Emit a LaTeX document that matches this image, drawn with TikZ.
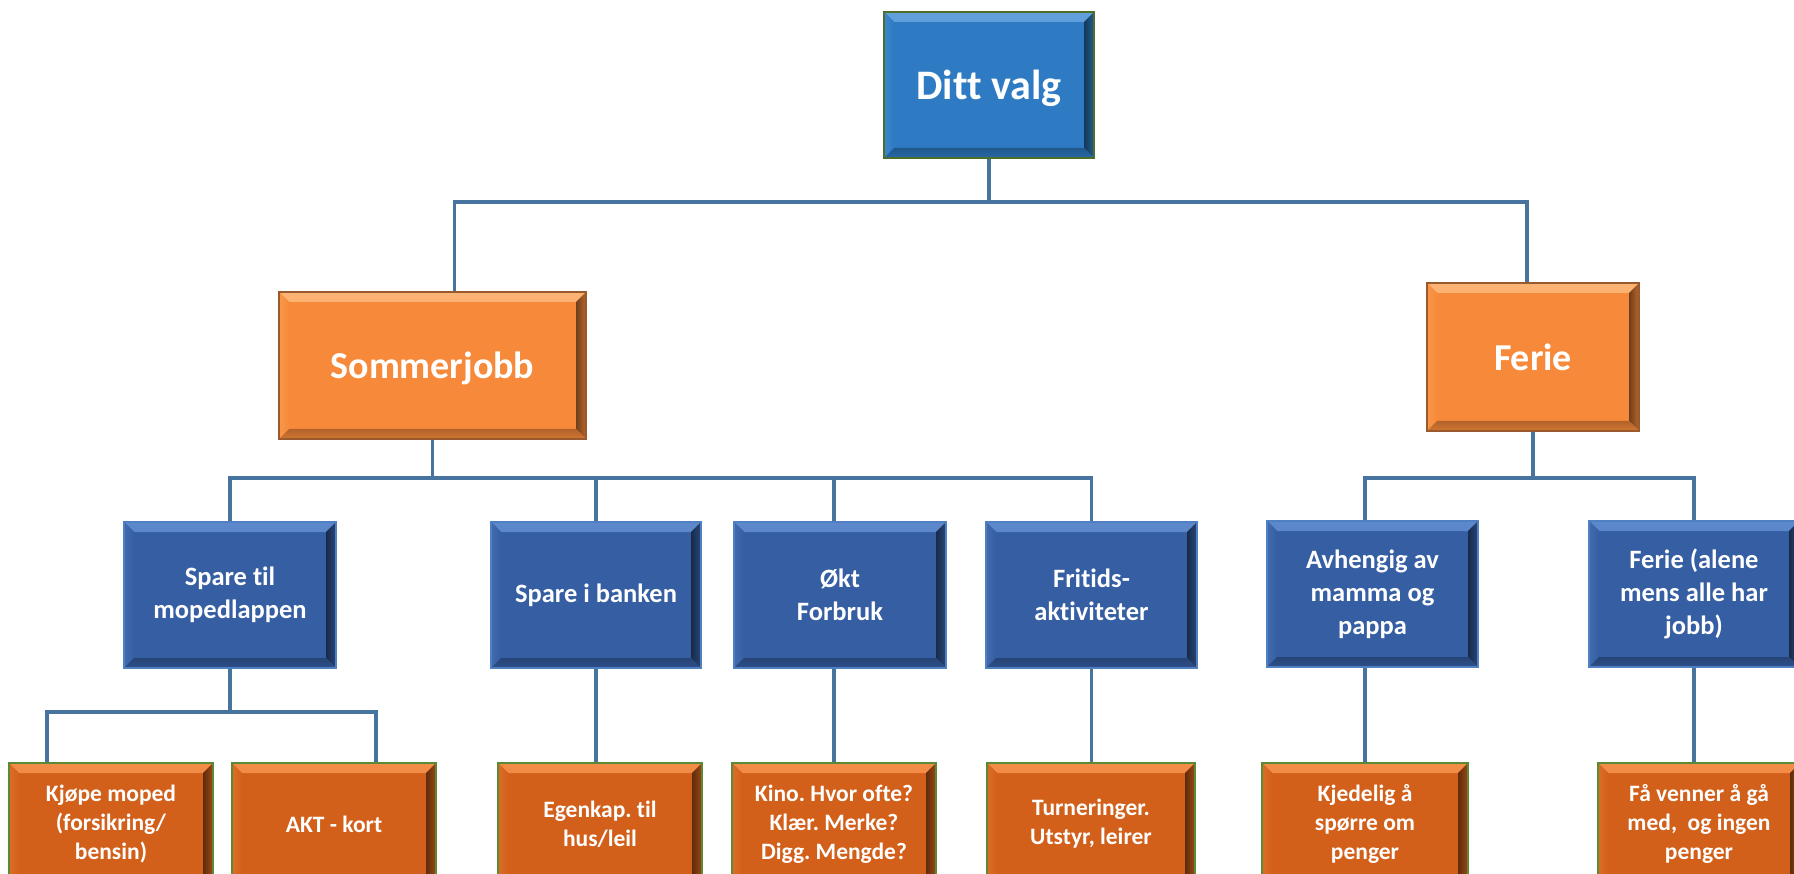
\documentclass[tikz,border=0pt]{standalone}
\usepackage{fontspec}
\setmainfont{Carlito}[Ligatures=NoCommon]
\frenchspacing
\definecolor{dittFace}{HTML}{2E7BC4}
\definecolor{dittLight}{HTML}{62A0DC}
\definecolor{dittBorder}{HTML}{4E6F2A}
\definecolor{blueFace}{HTML}{355EA3}
\definecolor{blueLight}{HTML}{5E88CC}
\definecolor{blueBorder}{HTML}{4F80C2}
\definecolor{oranFace}{HTML}{F78A3A}
\definecolor{oranLight}{HTML}{FCB474}
\definecolor{oranBorder}{HTML}{9A5A2D}
\definecolor{dkorFace}{HTML}{D2601A}
\definecolor{dkorLight}{HTML}{F28D48}
\definecolor{dkorBorder}{HTML}{5A8A35}
\definecolor{connCol}{HTML}{47749F}
\tikzset{
  bevbox/.style n args={3}{rectangle, draw=#3, line width=1.6pt, fill=#1,
    inner sep=0pt, align=center, text=white,
    path picture={
      \shade[top color=#2, bottom color=#1!60!#2]
        (path picture bounding box.north west) -- (path picture bounding box.north east)
        -- ([xshift=-10pt,yshift=-10pt]path picture bounding box.north east)
        -- ([xshift=10pt,yshift=-10pt]path picture bounding box.north west) -- cycle;
      \shade[left color=#1!70!#2, right color=#1]
        (path picture bounding box.north west) -- ([xshift=10pt,yshift=-10pt]path picture bounding box.north west)
        -- ([xshift=10pt,yshift=10pt]path picture bounding box.south west)
        -- (path picture bounding box.south west) -- cycle;
      \shade[left color=#1!45!black, right color=#1!75!black]
        (path picture bounding box.north east) -- (path picture bounding box.south east)
        -- ([xshift=-10pt,yshift=10pt]path picture bounding box.south east)
        -- ([xshift=-10pt,yshift=-10pt]path picture bounding box.north east) -- cycle;
      \shade[top color=#1!72!black, bottom color=#1!85!black]
        (path picture bounding box.south west) -- (path picture bounding box.south east)
        -- ([xshift=-10pt,yshift=10pt]path picture bounding box.south east)
        -- ([xshift=10pt,yshift=10pt]path picture bounding box.south west) -- cycle;
    }},
  lvone/.style={bevbox={dittFace}{dittLight}{dittBorder}, text depth=0pt,
    font=\fontsize{42pt}{50pt}\selectfont\bfseries},
  lvtwo/.style={bevbox={oranFace}{oranLight}{oranBorder}, text depth=0pt,
    font=\fontsize{38pt}{45pt}\selectfont\bfseries},
  lvthree/.style={bevbox={blueFace}{blueLight}{blueBorder},
    minimum height=146pt, font=\fontsize{26.5pt}{33pt}\selectfont\bfseries},
  lvfour/.style={bevbox={dkorFace}{dkorLight}{dkorBorder},
    minimum height=122pt, font=\fontsize{23.5pt}{29pt}\selectfont\bfseries},
  conn/.style={draw=connCol, line width=3.5pt},
}
\begin{document}
\begin{tikzpicture}[x=1pt,y=-1pt]
\useasboundingbox (0,0) rectangle (1794,874);
\clip (0,0) rectangle (1794,874);
% level 1
\node[lvone, minimum width=210pt, minimum height=146pt] (ditt) at (989,85) {Ditt valg};
% level 2
\node[lvtwo, minimum width=307pt, minimum height=147pt] (sommer) at (432.5,365.5) {Sommerjobb};
\node[lvtwo, minimum width=212pt, minimum height=148pt] (ferie) at (1533,357) {Ferie};
% level 3
\node[lvthree, minimum width=212pt] (spare) at (230,595) {Spare til\\mopedlappen};
\node[lvthree, minimum width=210pt] (banken) at (596,595) {Spare i banken};
\node[lvthree, minimum width=212pt] (okt) at (840,595) {Økt\\Forbruk};
\node[lvthree, minimum width=211pt] (frit) at (1091.5,595) {Fritids-\\aktiviteter};
\node[lvthree, minimum width=211pt] (avh) at (1372.5,594) {Avhengig av\\mamma og\\pappa};
\node[lvthree, minimum width=210pt] (alene) at (1694,594) {Ferie (alene\\mens alle har\\jobb)};
% level 4
\node[lvfour, minimum width=204pt] (kjop) at (111,824) {Kjøpe moped\\(forsikring/\\bensin)};
\node[lvfour, minimum width=204pt] (akt) at (334,824) {AKT - kort};
\node[lvfour, minimum width=204pt] (egen) at (600,824) {Egenkap. til\\hus/leil};
\node[lvfour, minimum width=204pt] (kino) at (834,824) {Kino. Hvor ofte?\\Klær. Merke?\\Digg. Mengde?};
\node[lvfour, minimum width=208pt] (turn) at (1091,824) {Turneringer.\\Utstyr, leirer};
\node[lvfour, minimum width=206pt] (kjed) at (1365,824) {Kjedelig å\\spørre om\\penger};
\node[lvfour, minimum width=202pt] (venn) at (1699,824) {Få venner å gå\\med,\ \ og ingen\\penger};
% bus coordinates
\coordinate (bus1) at (0,202);
\coordinate (bus2) at (0,478);
\coordinate (bus3) at (0,712);
\coordinate (sTop) at ([xshift=22pt]sommer.north);
\coordinate (fTop) at ([xshift=-6pt]ferie.north);
\coordinate (oTop) at ([xshift=-6pt]okt.north);
\coordinate (aTop) at ([xshift=-7.5pt]avh.north);
\coordinate (kT) at ([xshift=-64pt]kjop.north);
\coordinate (akT) at ([xshift=42pt]akt.north);
\coordinate (oBot) at ([xshift=-6pt]okt.south);
% connectors level 1-2
\draw[conn] (ditt.south) -- (ditt.south |- bus1);
\draw[conn] (sTop) -- (sTop |- bus1) -- (fTop |- bus1) -- (fTop);
% level 2-3
\draw[conn] (sommer.south) -- (sommer.south |- bus2);
\draw[conn] (spare.north) -- (spare.north |- bus2) -- (frit.north |- bus2) -- (frit.north);
\draw[conn] (banken.north) -- (banken.north |- bus2);
\draw[conn] (oTop) -- (oTop |- bus2);
\draw[conn] (ferie.south) -- (ferie.south |- bus2);
\draw[conn] (aTop) -- (aTop |- bus2) -- (alene.north |- bus2) -- (alene.north);
% level 3-4
\draw[conn] (spare.south) -- (spare.south |- bus3);
\draw[conn] (kT) -- (kT |- bus3) -- (akT |- bus3) -- (akT);
\draw[conn] (banken.south) -- (banken.south |- egen.north);
\draw[conn] (oBot) -- (oBot |- kino.north);
\draw[conn] (frit.south) -- (frit.south |- turn.north);
\draw[conn] (kjed.north |- avh.south) -- (kjed.north);
\draw[conn] (alene.south) -- (alene.south |- venn.north);
\end{tikzpicture}
\end{document}
